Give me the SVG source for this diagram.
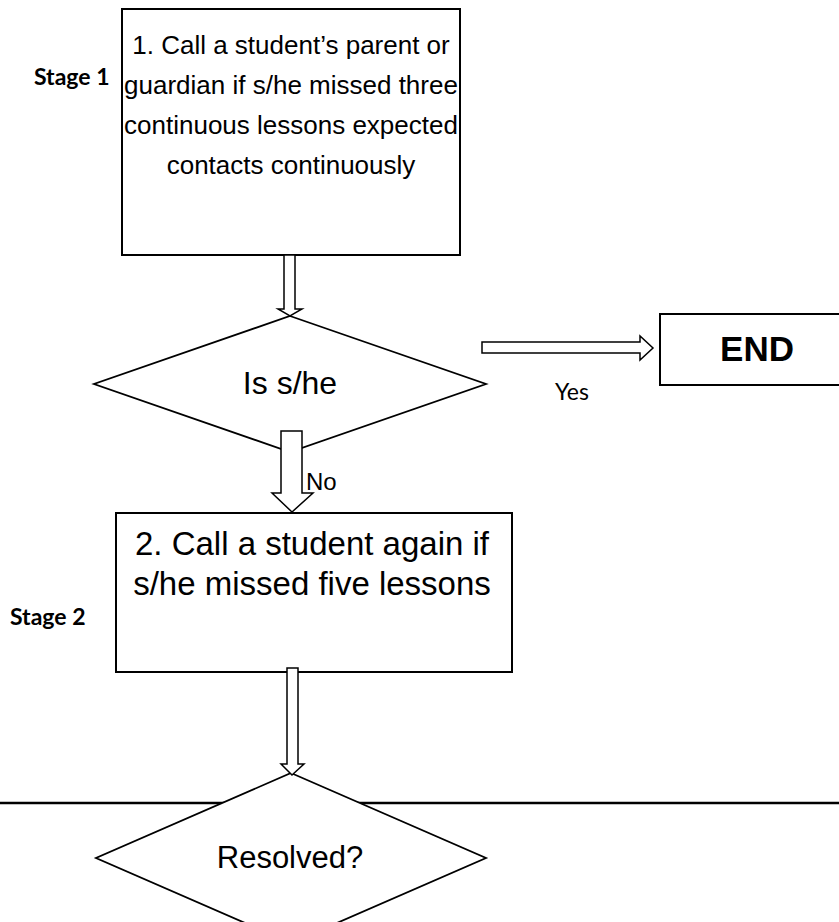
<svg xmlns="http://www.w3.org/2000/svg" width="839" height="922" viewBox="0 0 839 922">
  <style>
    .box { fill: #ffffff; stroke: #000000; stroke-width: 2; }
    .dia { fill: #ffffff; stroke: #000000; stroke-width: 1.8; }
    .arrow { fill: #ffffff; stroke: #000000; stroke-width: 1.5; stroke-linejoin: miter; }
    .t { font-family: "Liberation Sans", Arial, sans-serif; font-size: 26px; fill: #000000; text-anchor: middle; }
    .stage { font-family: Lato, "Open Sans", sans-serif; font-weight: bold; font-size: 23px; fill: #000000; }
    .lbl { font-family: Lato, "Open Sans", sans-serif; font-size: 23px; fill: #000000; }
  </style>
  <rect width="839" height="922" fill="#ffffff"/>
  <line id="divider" x1="0" y1="803" x2="839" y2="803" stroke="#000000" stroke-width="2.5"/>

  <text class="stage" x="34" y="85">Stage 1</text>
  <text class="stage" x="10" y="625">Stage 2</text>

  <g id="box1">
    <rect class="box" x="122" y="9" width="338" height="246"/>
    <text class="t" x="291" y="54">1. Call a student’s parent or</text>
    <text class="t" x="291" y="94">guardian if s/he missed three</text>
    <text class="t" x="291" y="134">continuous lessons expected</text>
    <text class="t" x="291" y="174">contacts continuously</text>
  </g>

  <g id="decision1">
    <polygon class="dia" points="290,316 486,384 290,452 94,384"/>
    <text class="t" x="290" y="394" style="font-size:32px">Is s/he</text>
  </g>

  <g id="end">
    <rect class="box" x="660" y="314" width="194" height="71"/>
    <text class="t" x="757" y="361" style="font-weight:bold;font-size:35px">END</text>
  </g>

  <g id="box2">
    <rect class="box" x="116" y="513" width="396" height="159"/>
    <text class="t" x="312" y="555" style="font-size:33px">2. Call a student again if</text>
    <text class="t" x="312" y="595" style="font-size:33px">s/he missed five lessons</text>
  </g>

  <g id="decision2">
    <polygon class="dia" points="291,773 486,858 291,943 96,858"/>
    <text class="t" x="290" y="868" style="font-size:31px">Resolved?</text>
  </g>

  <g id="connectors">
    <polygon class="arrow" points="284,255 295,255 295,309 302,309 290,316 278,309 284,309"/>
    <polygon class="arrow" points="482,342 640,342 640,336 653,348 640,360 640,353 482,353"/>
    <polygon class="arrow" points="281,431 302,431 302,493 313,493 292,512 272,493 281,493"/>
    <polygon class="arrow" points="287,668 298,668 298,764 304,764 292,775 281,764 287,764"/>
    <text class="lbl" x="555" y="400">Yes</text>
    <text class="t" x="306" y="490" style="text-anchor:start;font-size:24px">No</text>
  </g>
</svg>
